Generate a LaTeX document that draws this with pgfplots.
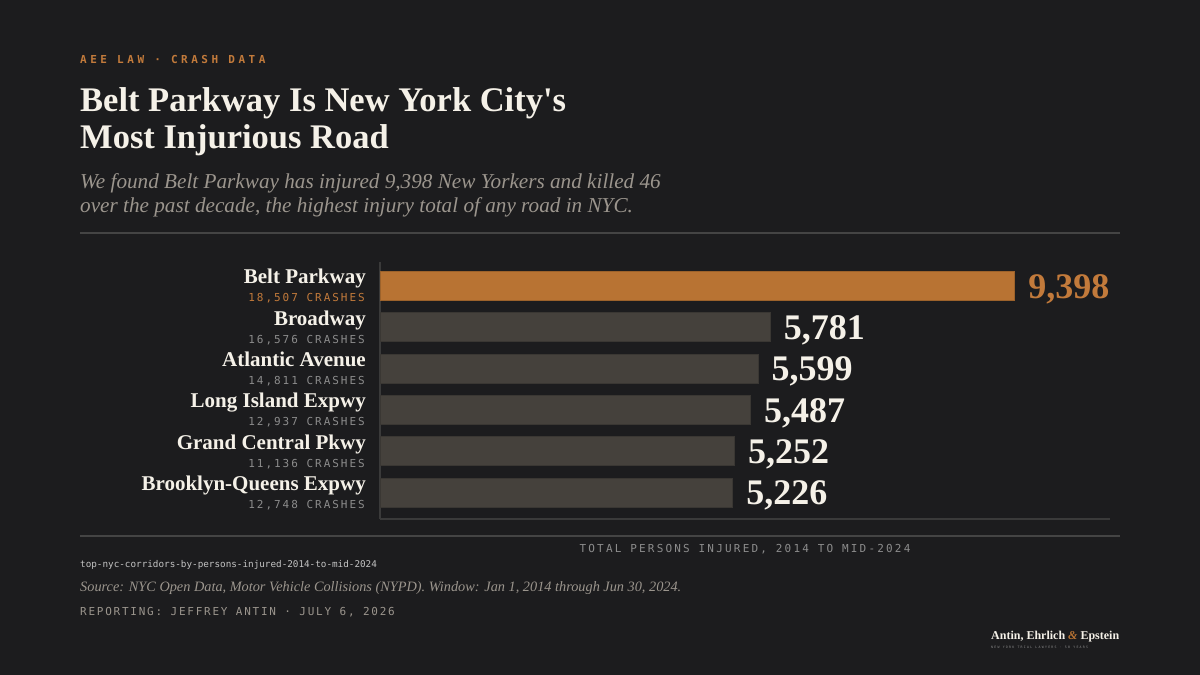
\documentclass[border=0pt]{standalone}
\usepackage{fontspec}
\usepackage{pgfplots}
\pgfplotsset{compat=1.18}
\setmainfont{Liberation Serif}
\newfontfamily\titlefont{Liberation Serif}
\newfontfamily\monoA[LetterSpace=32]{DejaVu Sans Mono}
\newfontfamily\monoB[LetterSpace=18]{DejaVu Sans Mono}
\newfontfamily\monoC{DejaVu Sans Mono}
\newfontfamily\monoD[LetterSpace=16]{DejaVu Sans Mono}
\newfontfamily\monoE[LetterSpace=20]{DejaVu Sans Mono}
\newfontfamily\monoF[LetterSpace=40]{DejaVu Sans Mono}
\definecolor{bg}{HTML}{1C1C1E}
\definecolor{orng}{HTML}{B87333}
\definecolor{orngT}{HTML}{C27A3B}
\definecolor{barg}{HTML}{45413C}
\definecolor{barb}{HTML}{3A3733}
\definecolor{wht}{HTML}{F5F1E8}
\definecolor{subg}{HTML}{9B958D}
\definecolor{crg}{HTML}{8C8C8C}
\definecolor{rule}{HTML}{444444}
\definecolor{axc}{HTML}{3A3A3A}
\definecolor{fileg}{HTML}{C4C4C4}
\begin{document}
\begin{tikzpicture}[x=1pt,y=1pt]
\fill[bg] (0,0) rectangle (1200,675);
% header
\node[anchor=base west, inner sep=0, text=orngT] at (80,611) {\fontsize{11}{13}\monoA\bfseries AEE LAW · CRASH DATA};
\node[anchor=base west, inner sep=0, text=wht] at (80,563) {\fontsize{34.5}{40}\titlefont\bfseries Belt Parkway Is New York City's};
\node[anchor=base west, inner sep=0, text=wht] at (80,526) {\fontsize{34.5}{40}\titlefont\bfseries Most Injurious Road};
\node[anchor=base west, inner sep=0, text=subg] at (80,486) {\fontsize{21.2}{24}\selectfont\itshape We found Belt Parkway has injured 9,398 New Yorkers and killed 46};
\node[anchor=base west, inner sep=0, text=subg] at (80,462) {\fontsize{21.2}{24}\selectfont\itshape over the past decade, the highest injury total of any road in NYC.};
\draw[rule, line width=1.5pt] (80,442) -- (1120,442);
\draw[rule, line width=1.5pt] (80,139) -- (1120,139);
% chart
\begin{axis}[
  at={(380pt,156pt)}, anchor=south west,
  scale only axis, width=730pt, height=257pt,
  xmin=0, xmax=10808, ymin=-0.58, ymax=5.64, y dir=reverse,
  xtick=\empty, ytick=\empty,
  axis x line*=bottom, axis y line*=left,
  axis line style={draw=axc, line width=1.5pt, -},
  clip=false,
  xbar, bar width=0.7, bar shift=0pt,
  point meta=x,
  nodes near coords={\pgfmathprintnumber[1000 sep={,}, assume math mode=true]{\pgfplotspointmeta}},
  every node near coord/.append style={anchor=west, inner sep=0pt, xshift=13pt, yshift=-3pt, font=\fontsize{36}{40}\selectfont\bfseries},
  xlabel={\fontsize{11}{13}\monoE TOTAL PERSONS INJURED, 2014 TO MID-2024},
  xlabel style={at={(axis description cs:0.5,0)}, anchor=base, inner sep=0pt, yshift=-33pt, text=crg},
]
\addplot[fill=orng, draw=orng!85!black, line width=1pt, every node near coord/.append style={text=orngT}] coordinates {(9398,0)};
\addplot[fill=barg, draw=barb, line width=1pt, every node near coord/.append style={text=wht}] coordinates {(5781,1) (5599,2) (5487,3) (5252,4) (5226,5)};
% category labels
\node[anchor=base east, inner sep=0, text=wht, xshift=-14pt, yshift=2pt] at (axis cs:0,0) {\fontsize{21}{24}\selectfont\bfseries Belt Parkway};
\node[anchor=base east, inner sep=0, text=orngT, xshift=-15pt, yshift=-16pt] at (axis cs:0,0) {\fontsize{11}{13}\monoB 18,507 CRASHES};
\node[anchor=base east, inner sep=0, text=wht, xshift=-14pt, yshift=2pt] at (axis cs:0,1) {\fontsize{21}{24}\selectfont\bfseries Broadway};
\node[anchor=base east, inner sep=0, text=crg, xshift=-15pt, yshift=-16pt] at (axis cs:0,1) {\fontsize{11}{13}\monoB 16,576 CRASHES};
\node[anchor=base east, inner sep=0, text=wht, xshift=-14pt, yshift=2pt] at (axis cs:0,2) {\fontsize{21}{24}\selectfont\bfseries Atlantic Avenue};
\node[anchor=base east, inner sep=0, text=crg, xshift=-15pt, yshift=-16pt] at (axis cs:0,2) {\fontsize{11}{13}\monoB 14,811 CRASHES};
\node[anchor=base east, inner sep=0, text=wht, xshift=-14pt, yshift=2pt] at (axis cs:0,3) {\fontsize{21}{24}\selectfont\bfseries Long Island Expwy};
\node[anchor=base east, inner sep=0, text=crg, xshift=-15pt, yshift=-16pt] at (axis cs:0,3) {\fontsize{11}{13}\monoB 12,937 CRASHES};
\node[anchor=base east, inner sep=0, text=wht, xshift=-14pt, yshift=2pt] at (axis cs:0,4) {\fontsize{21}{24}\selectfont\bfseries Grand Central Pkwy};
\node[anchor=base east, inner sep=0, text=crg, xshift=-15pt, yshift=-16pt] at (axis cs:0,4) {\fontsize{11}{13}\monoB 11,136 CRASHES};
\node[anchor=base east, inner sep=0, text=wht, xshift=-14pt, yshift=2pt] at (axis cs:0,5) {\fontsize{21}{24}\selectfont\bfseries Brooklyn-Queens Expwy};
\node[anchor=base east, inner sep=0, text=crg, xshift=-15pt, yshift=-16pt] at (axis cs:0,5) {\fontsize{11}{13}\monoB 12,748 CRASHES};
\end{axis}
% footer
\node[anchor=base west, inner sep=0, text=fileg] at (80,107) {\fontsize{9.3}{11}\monoC top-nyc-corridors-by-persons-injured-2014-to-mid-2024};
\node[anchor=base west, inner sep=0, text=subg] at (80,83) {\fontsize{14.3}{16}\selectfont\itshape Source: NYC Open Data, Motor Vehicle Collisions (NYPD). Window: Jan 1, 2014 through Jun 30, 2024.};
\node[anchor=base west, inner sep=0, text=subg] at (80,59) {\fontsize{11}{13}\monoD REPORTING: JEFFREY ANTIN · JULY 6, 2026};
\node[anchor=base west, inner sep=0, text=wht] at (991,35) {\fontsize{12}{14}\selectfont\bfseries Antin, Ehrlich {\color{orng}\itshape \&} Epstein};
\node[anchor=base west, inner sep=0, text=crg] at (991,27) {\fontsize{3.2}{4}\monoF NEW YORK TRIAL LAWYERS · 50 YEARS};
\end{tikzpicture}
\end{document}
